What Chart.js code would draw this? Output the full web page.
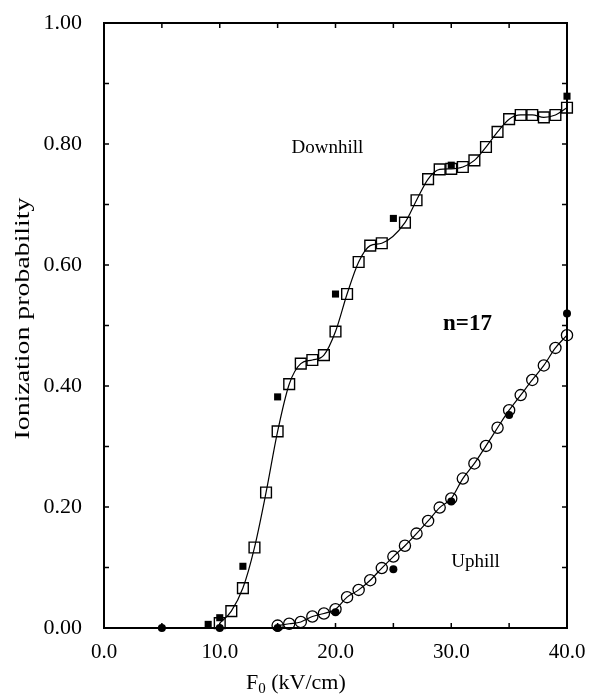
<!DOCTYPE html>
<html>
<head>
<meta charset="utf-8">
<script src="https://cdn.jsdelivr.net/npm/chart.js@4"></script>
<style>
  html, body { margin: 0; padding: 0; background: #fff; }
  #wrap { width: 590px; height: 694px; }
</style>
</head>
<body>
<div id="wrap"><canvas id="myChart"></canvas></div>
<script>
// downhill, open squares (computed curve)
let downX = [10, 11, 12, 13, 14, 15, 16, 17, 18, 19, 20, 21, 22, 23, 24,
             26, 27, 28, 29, 30, 31, 32, 33, 34, 35, 36, 37, 38, 39, 40];
let downY = [0.008, 0.028, 0.066, 0.133, 0.224, 0.325, 0.403, 0.437, 0.443, 0.451, 0.490, 0.552, 0.605, 0.632, 0.636,
             0.670, 0.707, 0.742, 0.758, 0.759, 0.762, 0.773, 0.795, 0.820, 0.841, 0.848, 0.848, 0.844, 0.848, 0.860];

// downhill, filled squares
let downFillX = [9, 10, 12, 15, 20, 25, 30, 40];
let downFillY = [0.006, 0.017, 0.102, 0.382, 0.552, 0.677, 0.765, 0.879];

// uphill, open circles
let upX = [15, 16, 17, 18, 19, 20, 21, 22, 23, 24, 25, 26, 27,
           28, 29, 30, 31, 32, 33, 34, 35, 36, 37, 38, 39, 40];
let upY = [0.004, 0.007, 0.010, 0.019, 0.024, 0.031, 0.051, 0.063, 0.079, 0.099, 0.118, 0.136, 0.156,
           0.177, 0.199, 0.214, 0.247, 0.272, 0.301, 0.331, 0.360, 0.385, 0.410, 0.434, 0.463, 0.484];

// uphill, filled circles
let upFillX = [5, 10, 15, 20, 25, 30, 35, 40];
let upFillY = [0, 0, 0, 0.026, 0.097, 0.209, 0.352, 0.520];

// tick values
let xTicks = [0, 5, 10, 15, 20, 25, 30, 35, 40];
let yTicks = [0, 0.1, 0.2, 0.3, 0.4, 0.5, 0.6, 0.7, 0.8, 0.9, 1.0];

// text inside the plot, in data coords
let noteText = ["Downhill", "n=17", "Uphill"];
let noteX = [19.3, 31.4, 32.1];
let noteY = [0.793, 0.502, 0.109];
let noteBold = [false, true, false];

const serif = '"Liberation Serif", "DejaVu Serif", serif';

function pts(xs, ys) {
    return xs.map((x, i) => ({x: x, y: ys[i]}));
}

// frame, inward ticks, notes, axis titles
let framePlugin = {
    id: 'frame',
    afterDatasetsDraw(chart) {
        let ctx = chart.ctx;
        let a = chart.chartArea;
        let xs = chart.scales.x, ys = chart.scales.y;
        ctx.save();
        ctx.strokeStyle = '#000';
        ctx.lineWidth = 2;
        ctx.strokeRect(a.left, a.top, a.right - a.left, a.bottom - a.top);
        ctx.lineWidth = 1.5;
        ctx.beginPath();
        xTicks.forEach(v => {
            let px = xs.getPixelForValue(v);
            ctx.moveTo(px, a.bottom); ctx.lineTo(px, a.bottom - 5);
            ctx.moveTo(px, a.top); ctx.lineTo(px, a.top + 5);
        });
        yTicks.forEach(v => {
            let py = ys.getPixelForValue(v);
            ctx.moveTo(a.left, py); ctx.lineTo(a.left + 5, py);
            ctx.moveTo(a.right, py); ctx.lineTo(a.right - 5, py);
        });
        ctx.stroke();

        ctx.fillStyle = '#000';
        ctx.textAlign = 'center';
        ctx.textBaseline = 'middle';
        noteText.forEach((t, i) => {
            ctx.font = (noteBold[i] ? 'bold 23px ' : '19px ') + serif;
            ctx.fillText(t, xs.getPixelForValue(noteX[i]), ys.getPixelForValue(noteY[i]));
        });

        // x title with subscript
        ctx.textAlign = 'left';
        ctx.textBaseline = 'alphabetic';
        let bx = 246, by = 689;
        ctx.font = '22px ' + serif;
        ctx.fillText('F', bx, by);
        bx += ctx.measureText('F').width;
        ctx.font = '15px ' + serif;
        ctx.fillText('0', bx, by + 4);
        bx += ctx.measureText('0').width;
        ctx.font = '22px ' + serif;
        ctx.fillText(' (kV/cm)', bx, by);

        // y title, rotated and stretched to the original length
        ctx.font = '20px ' + serif;
        let t = 'Ionization probability';
        let w = ctx.measureText(t).width;
        ctx.translate(29, 318.5);
        ctx.rotate(-Math.PI / 2);
        ctx.scale(242 / w, 1);
        ctx.textAlign = 'center';
        ctx.fillText(t, 0, 0);
        ctx.restore();
    }
};

let data = {
    datasets: [
        {
            label: 'Downhill',
            data: pts(downX, downY),
            showLine: true,
            borderColor: '#000',
            borderWidth: 1.2,
            cubicInterpolationMode: 'monotone',
            pointStyle: 'rect',
            pointRadius: 7.6,
            pointBorderWidth: 1.4,
            pointBorderColor: '#000',
            pointBackgroundColor: 'rgba(0,0,0,0)',
            order: 3
        },
        {
            label: 'Uphill',
            data: pts(upX, upY),
            showLine: true,
            borderColor: '#000',
            borderWidth: 1.2,
            cubicInterpolationMode: 'monotone',
            pointStyle: 'circle',
            pointRadius: 5.6,
            pointBorderWidth: 1.3,
            pointBorderColor: '#000',
            pointBackgroundColor: 'rgba(0,0,0,0)',
            order: 2
        },
        {
            label: 'Downhill filled',
            data: pts(downFillX, downFillY),
            showLine: false,
            pointStyle: 'rect',
            pointRadius: 5,
            pointBorderWidth: 0,
            pointBackgroundColor: '#000',
            order: 1
        },
        {
            label: 'Uphill filled',
            data: pts(upFillX, upFillY),
            showLine: false,
            pointStyle: 'circle',
            pointRadius: 4,
            pointBorderWidth: 0,
            pointBackgroundColor: '#000',
            order: 0
        }
    ]
};

function noPad(s) {
    s.paddingTop = 0; s.paddingBottom = 0;
    s.paddingLeft = 0; s.paddingRight = 0;
}

let config = {
    type: 'scatter',
    data: data,
    plugins: [framePlugin],
    options: {
        responsive: true,
        maintainAspectRatio: false,
        animation: false,
        clip: false,
        layout: { padding: { top: 23, right: 23, left: 0, bottom: 0 } },
        plugins: { legend: { display: false }, tooltip: { enabled: false } },
        scales: {
            x: {
                type: 'linear',
                min: 0, max: 40,
                afterFit(s) { s.height = 66; noPad(s); },
                afterBuildTicks(s) { s.ticks = xTicks.filter(v => v % 10 === 0).map(v => ({value: v})); },
                grid: { display: false, drawTicks: false },
                border: { display: false },
                ticks: {
                    color: '#000',
                    font: { family: serif, size: 21 },
                    padding: 12,
                    maxRotation: 0,
                    autoSkip: false,
                    callback: v => v.toFixed(1)
                }
            },
            y: {
                type: 'linear',
                min: 0, max: 1,
                afterFit(s) { s.width = 104; noPad(s); },
                afterBuildTicks(s) { s.ticks = yTicks.filter((v, i) => i % 2 === 0).map(v => ({value: v})); },
                grid: { display: false, drawTicks: false },
                border: { display: false },
                ticks: {
                    color: '#000',
                    font: { family: serif, size: 22 },
                    padding: 22,
                    autoSkip: false,
                    callback: v => v.toFixed(2)
                }
            }
        }
    }
};

let lineChart = new Chart(document.getElementById('myChart'), config);
</script>
</body>
</html>
